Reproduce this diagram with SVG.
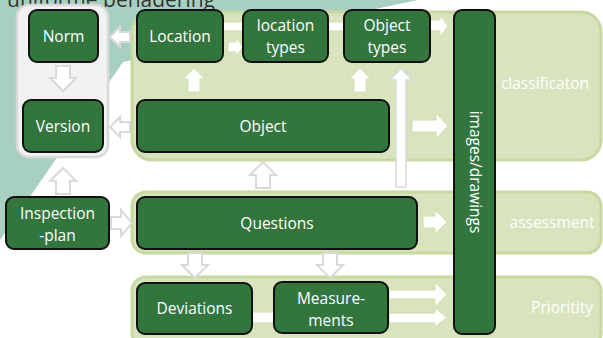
<svg xmlns="http://www.w3.org/2000/svg" width="603" height="338" viewBox="0 0 603 338">
<defs>
<style>
.panel{fill:#d8e4bd;stroke:#c6d9a0;stroke-width:3}
.gpanel{fill:#f2f2f2;stroke:#d9d9d9;stroke-width:2.5}
.box{fill:#32753d;stroke:#111;stroke-width:2}
.t{font-family:"Open Sans","Liberation Sans",sans-serif;font-size:15.5px;fill:#fff;text-anchor:middle}
.lbl{font-family:"Open Sans","Liberation Sans",sans-serif;font-size:15.5px;fill:#fff;text-anchor:middle}
.hol{fill:#fff;stroke:#d9d9d9;stroke-width:2}
.wa{fill:#fff;stroke:#cfdfae;stroke-width:1}
.wl{fill:#fff;stroke:#d9d9d9;stroke-width:1.5}
</style>
</defs>
<rect width="603" height="338" fill="#fff"/>
<g id="background">
<polygon points="0,0 418,0 123,62 0,240" fill="#a8d0c1"/>
<text x="7" y="7" font-family="'Open Sans','Liberation Sans',sans-serif" font-size="21" fill="#333">uniforme benadering</text>
</g>
<g id="panels">
<rect id="gray-panel" class="gpanel" x="17" y="5" width="91" height="152" rx="12"/>
<rect id="classification-panel" class="panel" x="132" y="12" width="469" height="148" rx="20"/>
<rect id="assessment-panel" class="panel" x="132" y="192" width="469" height="61" rx="14"/>
<rect id="priority-panel" class="panel" x="132" y="277" width="469" height="70" rx="14"/>
<text class="lbl" x="545" y="89">classificaton</text>
<text class="lbl" x="552" y="228">assessment</text>
<text class="lbl" x="562" y="313">Prioritity</text>
</g>
<g id="connectors">
<path class="hol" d="M110,37 L120,27 L120,32 L130,32 L130,42 L120,42 L120,47 Z"/>
<path class="hol" d="M110,127 L120,117 L120,122 L130,122 L130,132 L120,132 L120,137 Z"/>
<path class="hol" d="M56,66 L70,66 L70,78 L76,78 L63,91 L50,78 L56,78 Z"/>
<path class="hol" d="M63,168 L76,181 L70,181 L70,194 L56,194 L56,181 L50,181 Z"/>
<path class="hol" d="M111,217 L121,217 L121,210 L132,223 L121,236 L121,229 L111,229 Z"/>
<path class="hol" d="M263,162 L276,175 L270,175 L270,188 L256,188 L256,175 L250,175 Z"/>
<path class="hol" d="M188,253 L202,253 L202,265 L208,265 L195,278 L182,265 L188,265 Z"/>
<path class="hol" d="M323,253 L337,253 L337,265 L343,265 L330,278 L317,265 L323,265 Z"/>
<path class="wa" d="M194,68 L205,79 L200,79 L200,92 L188,92 L188,79 L183,79 Z"/>
<path class="wa" d="M360,68 L371,79 L366,79 L366,92 L354,92 L354,79 L349,79 Z"/>
<path class="wl" d="M401,68 L412,80 L406,80 L406,187 L396,187 L396,80 L390,80 Z"/>
<rect class="wa" x="222" y="22" width="22" height="9"/>
<rect class="wa" x="327" y="22" width="18" height="9"/>
<rect class="wa" x="251" y="312" width="24" height="11"/>
<path class="wa" d="M228,42 L236,42 L236,37 L243,47 L236,57 L236,52 L228,52 Z"/>
<path class="wa" d="M430,20 L440,20 L440,15 L448,26 L440,37 L440,31 L430,31 Z"/>
<path class="wa" d="M412,120 L436,120 L436,113 L448,126 L436,139 L436,132 L412,132 Z"/>
<path class="wa" d="M423,216 L435,216 L435,210 L447,222 L435,234 L435,228 L423,228 Z"/>
<path class="wa" d="M389,290 L435,290 L435,282 L447,294.5 L435,307 L435,299 L389,299 Z"/>
<path class="wa" d="M389,313 L435,313 L435,308 L447,317.5 L435,327 L435,323 L389,323 Z"/>
</g>
<g id="node-norm"><rect class="box" x="29" y="10" width="69" height="52" rx="8"/><text class="t" x="63.5" y="42">Norm</text></g>
<g id="node-version"><rect class="box" x="23" y="100" width="80" height="52" rx="8"/><text class="t" x="63" y="132">Version</text></g>
<g id="node-location"><rect class="box" x="137" y="10" width="86" height="52" rx="8"/><text class="t" x="180" y="42">Location</text></g>
<g id="node-location-types"><rect class="box" x="243" y="10" width="85" height="52" rx="8"/><text class="t" x="285.5" y="31">location</text><text class="t" x="285.5" y="53">types</text></g>
<g id="node-object-types"><rect class="box" x="344" y="10" width="86" height="52" rx="8"/><text class="t" x="387" y="31">Object</text><text class="t" x="387" y="53">types</text></g>
<g id="node-object"><rect class="box" x="137" y="100" width="252" height="52" rx="8"/><text class="t" x="263" y="132">Object</text></g>
<g id="node-images"><rect class="box" x="454" y="10" width="41" height="324" rx="8"/><text class="t" transform="translate(469.5,172) rotate(90)" x="0" y="0" font-size="14">images/drawings</text></g>
<g id="node-inspection-plan"><rect class="box" x="6" y="197" width="103" height="52" rx="8"/><text class="t" x="57.5" y="219">Inspection</text><text class="t" x="57.5" y="241">-plan</text></g>
<g id="node-questions"><rect class="box" x="137" y="197" width="280" height="52" rx="8"/><text class="t" x="277" y="229">Questions</text></g>
<g id="node-deviations"><rect class="box" x="137" y="283" width="115" height="51" rx="8"/><text class="t" x="194.5" y="314">Deviations</text></g>
<g id="node-measurements"><rect class="box" x="274" y="282" width="114" height="51" rx="8"/><text class="t" x="331" y="304">Measure-</text><text class="t" x="331" y="326">ments</text></g>
</svg>
